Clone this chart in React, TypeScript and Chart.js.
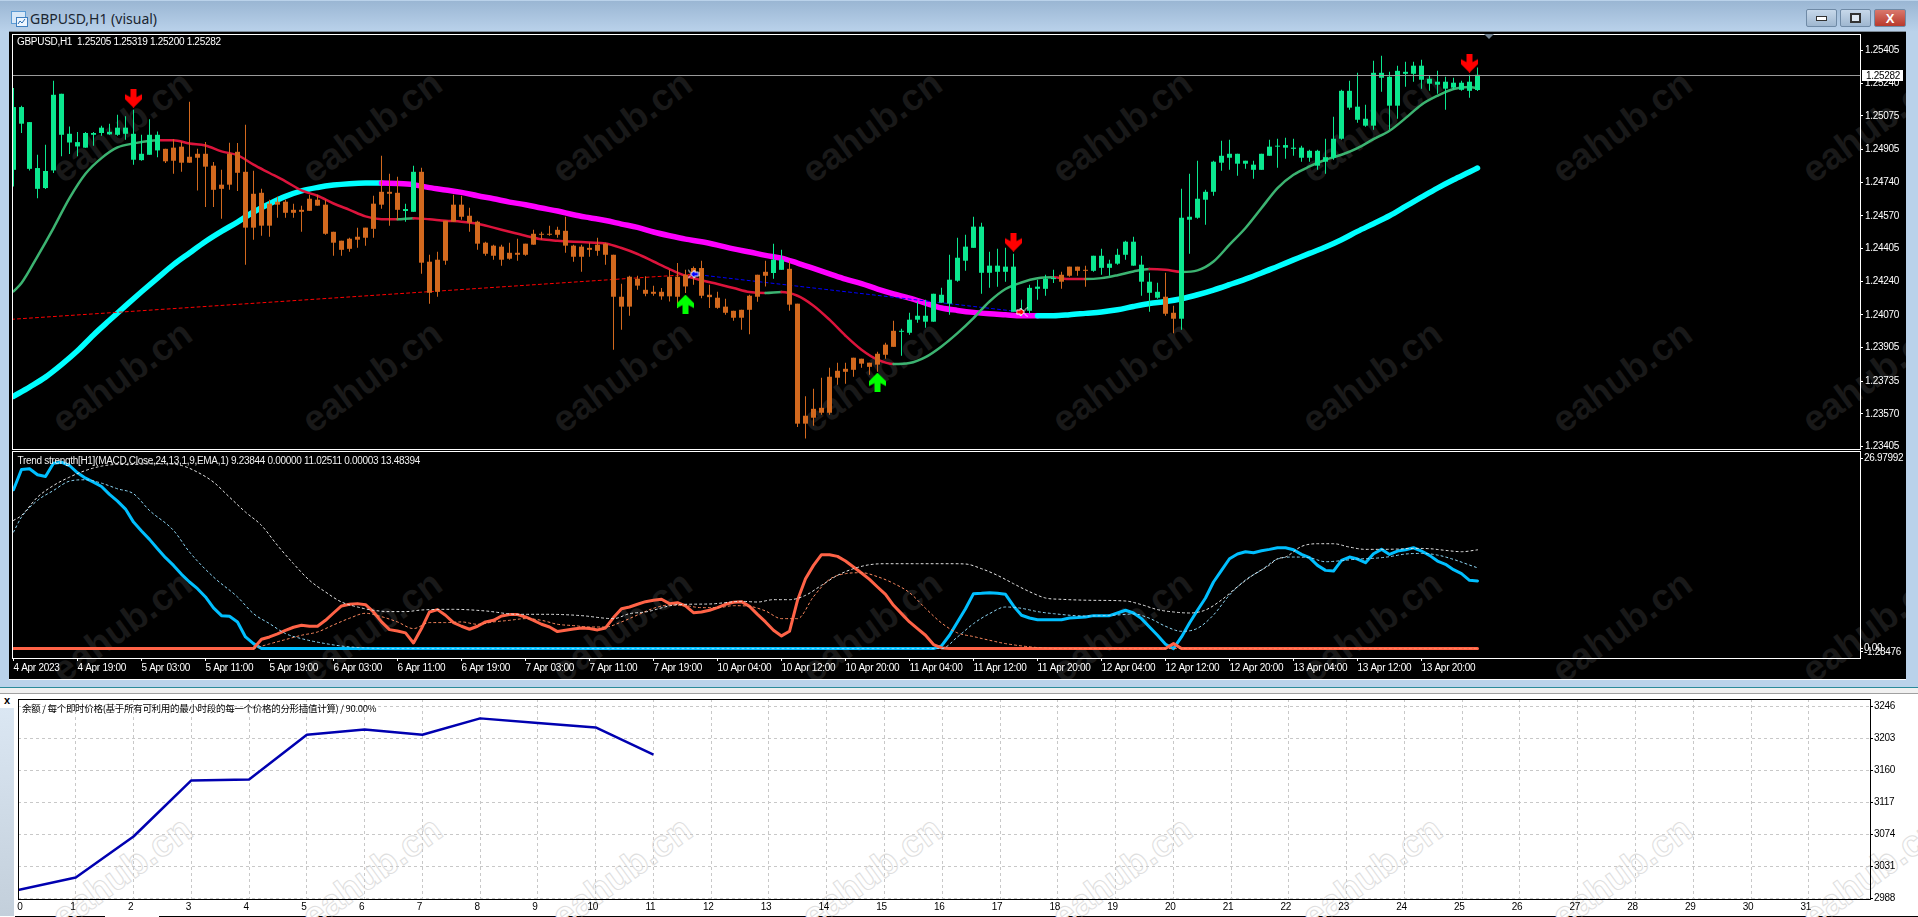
import React, { useEffect, useRef } from "react";
import { Chart, registerables } from "chart.js";

Chart.register(...registerables);

// ---------- price data (in 1/100000 price points), one entry per H1 bar ----------
const highs = [
  125215,125126,125043,124878,124929,125252,125186,125021,124993,124993,
  124993,125025,125035,125080,125072,125105,124979,125058,124996,124908,
  124957,124944,125146,124908,124942,124841,124802,124939,124937,125030,
  124797,124706,124651,124666,124651,124631,124621,124676,124676,124651,
  124489,124444,124459,124510,124510,124671,124873,124782,124767,124631,
  124823,124813,124373,124388,124545,124676,124671,124610,124545,124439,
  124424,124424,124434,124454,124429,124499,124489,124520,124515,124565,
  124424,124424,124434,124459,124434,124373,124227,124267,124267,124264,
  124217,124205,124297,124331,124297,124314,124343,124222,124186,124151,
  124090,124095,124171,124272,124343,124429,124398,124343,124126,123658,
  123696,123752,123802,123828,123828,123853,123848,123828,123883,123929,
  124040,123999,124080,124136,124146,124176,124206,124373,124459,124474,
  124565,124535,124388,124403,124408,124378,124146,124222,124247,124272,
  124297,124287,124313,124313,124318,124368,124403,124348,124403,124444,
  124464,124368,124282,124232,124282,124116,124706,124782,124848,124701,
  124848,124949,124954,124883,124848,124848,124883,124954,124959,124964,
  124959,124924,124903,124903,124959,125070,125206,125252,125292,125131,
  125353,125378,125297,125328,125348,125348,125358,125277,125302,125272,
  125267,125252,125282,125319,
];
const lows = [
  124718,124988,124799,124658,124705,124786,124870,124882,124870,124914,
  124924,124974,124979,124974,124954,124828,124848,124878,124865,124836,
  124782,124792,124838,124698,124614,124614,124555,124701,124695,124323,
  124449,124469,124464,124560,124560,124560,124489,124595,124621,124474,
  124368,124368,124388,124408,124419,124459,124605,124520,124550,124540,
  124590,124277,124126,124161,124323,124540,124550,124489,124398,124368,
  124348,124318,124348,124343,124368,124424,124449,124469,124459,124383,
  124338,124287,124363,124368,124323,123893,123994,124065,124196,124163,
  124166,124146,124137,124104,124180,124222,124154,124104,124100,124070,
  124040,123994,123972,124136,124213,124252,124297,124090,123503,123445,
  123510,123565,123565,123717,123722,123757,123802,123767,123782,123848,
  123908,123863,123969,124030,124004,124035,124131,124070,124237,124292,
  124408,124176,124206,124212,124237,124085,124062,124075,124146,124166,
  124230,124201,124262,124267,124212,124287,124272,124267,124323,124348,
  124318,124166,124085,124151,124065,123977,123994,124378,124555,124525,
  124671,124797,124802,124772,124807,124757,124802,124873,124813,124858,
  124873,124843,124843,124802,124782,124853,124954,125105,125040,125020,
  125004,125196,125004,125060,125222,125247,125212,125201,125186,125105,
  125206,125201,125166,125200,
];
const bodyTops = [
  125119,125119,125043,124811,124796,125181,125186,124984,124942,124988,
  124988,125015,124994,125015,125015,124984,124883,124979,124979,124908,
  124914,124919,124868,124883,124883,124823,124727,124883,124893,124792,
  124681,124686,124631,124641,124641,124600,124600,124656,124651,124626,
  124489,124444,124454,124464,124510,124631,124691,124691,124686,124604,
  124792,124792,124338,124348,124545,124626,124626,124570,124540,124434,
  124419,124414,124383,124383,124429,124479,124479,124479,124499,124494,
  124419,124414,124408,124424,124429,124373,124161,124262,124252,124196,
  124186,124186,124262,124262,124272,124306,124306,124171,124156,124111,
  124090,124095,124166,124272,124287,124348,124348,124302,124126,123560,
  123595,123600,123757,123787,123797,123853,123848,123828,123873,123919,
  123989,123989,124045,124065,124065,124176,124171,124247,124358,124414,
  124515,124515,124318,124318,124313,124313,124095,124206,124212,124252,
  124257,124272,124313,124313,124297,124368,124368,124328,124373,124439,
  124439,124323,124237,124186,124161,124080,124560,124565,124656,124691,
  124843,124873,124883,124883,124848,124828,124883,124919,124924,124927,
  124914,124914,124898,124898,124866,124959,125201,125201,125121,125060,
  125292,125292,125272,125302,125297,125328,125328,125262,125247,125247,
  125242,125242,125247,125282,
];
const bodyBottoms = [
  124802,125035,124807,124706,124710,124799,124979,124940,124920,124914,
  124979,124988,124981,124979,124984,124853,124851,124878,124900,124845,
  124848,124838,124838,124863,124818,124701,124706,124727,124787,124510,
  124510,124520,124520,124626,124585,124585,124590,124595,124621,124479,
  124434,124398,124403,124449,124459,124504,124626,124681,124600,124594,
  124590,124333,124181,124186,124343,124540,124565,124535,124429,124378,
  124368,124348,124353,124373,124373,124424,124474,124474,124474,124419,
  124363,124363,124398,124393,124373,124161,124111,124111,124217,124176,
  124176,124163,124163,124161,124213,124281,124166,124159,124105,124080,
  124055,124055,124095,124161,124267,124281,124297,124121,123520,123520,
  123550,123575,123575,123752,123782,123792,123823,123807,123818,123868,
  123908,123984,123979,124045,124035,124035,124131,124126,124242,124343,
  124408,124282,124282,124287,124287,124085,124085,124090,124201,124201,
  124250,124237,124267,124292,124292,124292,124307,124307,124328,124373,
  124318,124237,124181,124156,124075,124050,124050,124550,124560,124651,
  124691,124838,124863,124833,124833,124802,124802,124873,124919,124914,
  124908,124863,124863,124823,124843,124863,124959,125116,125055,125025,
  125025,125267,125126,125126,125287,125287,125257,125237,125232,125212,
  125217,125206,125201,125205,
];
// bars painted in the up-trend colour, inclusive bar ranges
const greenCandleRuns = [[0,18],[49,50],[95,96],[111,130],[135,143],[146,183]];

// ---------- moving averages: [bar, price points] ----------
const fastMA = [[0,124188],[1,124230],[3,124365],[5,124508],[7,124659],[9,124782],[11,124861],[13,124915],[15,124935],[18,124952],[20,124952],[22,124935],[24,124925],[26,124895],[28,124876],[30,124828],[32,124786],[34,124744],[36,124698],[38,124671],[40,124632],[42,124600],[44,124567],[46,124553],[48,124552],[50,124558],[52,124552],[54,124545],[56,124540],[58,124530],[60,124510],[62,124489],[64,124469],[66,124451],[68,124444],[70,124439],[72,124435],[74,124430],[76,124407],[78,124377],[80,124339],[82,124301],[84,124267],[86,124244],[88,124225],[90,124205],[92,124185],[94,124180],[96,124185],[98,124166],[100,124116],[102,124045],[104,123964],[106,123893],[108,123843],[110,123821],[112,123826],[114,123856],[116,123910],[118,123977],[120,124053],[122,124137],[124,124200],[126,124233],[128,124254],[130,124259],[132,124250],[134,124250],[136,124255],[138,124270],[140,124289],[142,124301],[144,124297],[146,124286],[148,124294],[150,124339],[152,124424],[154,124508],[156,124609],[158,124710],[160,124777],[162,124819],[164,124853],[166,124878],[168,124912],[170,124957],[172,124999],[174,125063],[176,125131],[178,125176],[180,125210],[182,125220],[183,125215]];
const fastRedRuns = [[18,48],[50,94],[96,110],[130,134],[142,146]];
const slowMA = [[0,123658],[2,123705],[4,123755],[6,123818],[8,123888],[10,123968],[12,124042],[14,124115],[16,124186],[18,124255],[20,124323],[22,124382],[24,124440],[26,124491],[28,124538],[30,124589],[32,124631],[34,124668],[36,124696],[38,124713],[40,124725],[42,124732],[44,124735],[46,124735],[48,124733],[50,124727],[52,124712],[54,124700],[56,124688],[58,124671],[60,124656],[62,124639],[64,124626],[66,124609],[68,124594],[70,124575],[72,124560],[74,124546],[76,124528],[78,124511],[80,124488],[82,124469],[84,124452],[86,124439],[88,124422],[90,124403],[92,124387],[94,124370],[96,124356],[98,124331],[100,124304],[102,124277],[104,124250],[106,124227],[108,124200],[110,124176],[112,124154],[114,124129],[116,124104],[118,124092],[120,124082],[122,124075],[124,124070],[126,124065],[128,124065],[130,124065],[132,124070],[134,124077],[136,124084],[138,124095],[140,124112],[142,124127],[144,124137],[146,124151],[148,124171],[150,124195],[152,124222],[154,124250],[156,124281],[158,124314],[160,124347],[162,124380],[164,124412],[166,124449],[168,124491],[170,124530],[172,124570],[174,124617],[176,124664],[178,124710],[180,124752],[182,124791],[183,124811]];
const slowMagentaRun = [46, 128];
const tradeRed = [[-1,124045],[85,124275]];
const tradeBlue = [[85,124275],[126,124084]];
const arrowsDown = [[15,125164],[125,124437],[182,125341]];
const arrowsUp = [[84,124124],[108,123730]];
const orderOpen = [[85,124275]];
const orderClose = [[126,124084]];
const lastClose = 1.25282;
const priceTicks = [1.25405,1.2524,1.25075,1.24905,1.2474,1.2457,1.24405,1.2424,1.2407,1.23905,1.23735,1.2357,1.23405];

// ---------- Trend strength window ----------
const blueFrom0 = [21.68,24.45,24.55,23.73,23.5,25.32,25.45,25,24,23.27,22.73,22.14,21.05,20.14,19.05,17.27,16.05,14.91,13.64,12.41,11.36,10.14,9.09,8.18,7.05,5.55,4.5,4.41,3.64,1.59,0.68,0];
const blueFrom115 = [0,0.36,1.82,3.64,5.45,7.5,7.55,7.64,7.55,7.41,5.82,4.55,4.18,3.95,3.95,3.95,3.95,4.18,4.23,4.32,4.5,4.5,4.5,4.86,5.23,4.86,4.09,2.95,1.82,0.59,0,1.59,3.5,5.23,6.91,9.09,10.68,12.27,12.91,13.23,13.09,13.36,13.55,13.77,13.77,13.5,12.86,12.41,11.36,10.68,10.59,12.05,12.5,12.23,11.73,12.95,13.55,12.86,13.32,13.5,13.77,13.32,12.73,11.95,11.5,10.77,10.23,9.32,9.24];
const orangeFrom30 = [0,1.27,1.59,2,2.5,2.91,3.18,3.05,3.05,3.86,4.86,5.82,6.05,6.14,6,5,3.64,2.59,2.41,2.14,0.77,2.73,5,5.32,4.55,3.55,3.05,2.64,3.05,3.64,3.86,4.45,4.64,4.64,4.32,3.86,3.32,2.95,2.32,2.5,2.68,2.82,2.73,2.55,2.82,4.23,5.45,5.68,6.05,6.41,6.59,6.73,6.14,6.27,5.82,4.91,5,5.23,5.59,6.05,6.32,6.41,5.77,4.68,3.64,2.5,1.73,2.36,6.59,9.55,11.36,12.82,12.82,12.59,11.95,11.14,10.32,9.45,8.41,7.41,5.91,4.77,3.64,2.73,1.82,0.55,0.09,0];
const orangeTail = [[144,0],[145,0.68],[146,0],[183,0]];
const whiteSignal = [[0,17.5],[1,18.18],[3,20.68],[5,22.27],[7,23.41],[9,24.32],[11,24.91],[13,25.14],[15,25.14],[17,25.23],[19,25.23],[21,25],[23,24.09],[25,22.73],[27,20.68],[29,18.64],[31,16.82],[33,14.09],[35,11.59],[37,9.32],[39,7.73],[41,6.36],[43,5.68],[45,5.23],[47,5.05],[49,5.05],[51,5.27],[55,5.36],[59,5.14],[63,4.68],[67,4.68],[71,4.5],[75,4.09],[77,4.77],[79,5],[83,6],[87,6.09],[91,6.45],[93,6.36],[95,6.68],[97,6.68],[99,7.27],[101,8.64],[103,10],[105,10.91],[107,11.45],[109,11.59],[113,11.59],[117,11.59],[119,11.55],[121,10.91],[123,10],[125,8.86],[127,7.77],[129,6.91],[131,6.73],[135,6.59],[139,6.5],[141,6],[143,5.32],[145,5],[147,4.86],[149,5.27],[151,6.64],[153,8.45],[155,10.09],[157,11.41],[158,12.27],[159,12.5],[161,13.95],[163,14.32],[165,14.32],[167,13.86],[169,13.55],[171,13.55],[173,13.59],[175,13.68],[177,13.64],[179,13.41],[181,13.23],[183,13.48]];
const blueSignal = [[0,15.91],[1,17.95],[3,20.23],[5,21.59],[7,22.86],[9,23.05],[11,22.59],[13,21.82],[15,21.14],[17,18.86],[20,16.14],[22,13.18],[25,9.77],[28,7.05],[30,4.77],[32,3.41],[34,2.05],[36,1.36],[39,0.68],[42,0.23],[47,0],[116,0],[118,1.59],[120,3.41],[122,4.77],[124,5.68],[126,5.5],[128,5.05],[130,4.77],[134,4.45],[138,4.59],[140,4.73],[142,4.14],[144,3.05],[146,2.36],[148,2.77],[150,4.59],[152,7.32],[154,9.36],[156,10.73],[158,12.23],[160,12.5],[162,12.41],[164,11.86],[166,12],[168,12.23],[170,12.32],[172,12.55],[174,12.91],[176,13],[178,12.77],[180,12.18],[182,11.41],[183,11.03]];
const orangeSignal = [[30,0],[32,0.64],[34,1.23],[36,1.82],[38,2.27],[40,3.23],[42,4.14],[44,4.82],[46,4.36],[48,3.64],[50,2.73],[52,3.55],[54,3.55],[56,3.64],[58,3.32],[60,3.64],[62,3.86],[64,4.09],[66,3.86],[68,3.32],[70,3.14],[72,2.95],[74,2.95],[76,3.64],[78,4.59],[80,5.5],[82,5.95],[84,5.86],[86,5.59],[88,5.59],[90,5.86],[92,5.77],[94,5.14],[96,4.09],[98,4.09],[100,7.09],[102,9.45],[104,10.23],[106,10.36],[108,9.82],[110,8.91],[112,7.64],[114,5.5],[116,3.5],[118,2.14],[120,1.64],[122,1.14],[124,0.68],[128,0.14],[131,0],[183,0]];
const subTickPos = [26, 0, -0.45];
const subTickLabels = ["26.97992", "0.00", "-1.28476"];
const timeTickBars = [0,8,16,24,32,40,48,56,64,72,80,88,96,104,112,120,128,136,144,152,160,168,176];
const timeTickLabels = ["4 Apr 2023","4 Apr 19:00","5 Apr 03:00","5 Apr 11:00","5 Apr 19:00","6 Apr 03:00","6 Apr 11:00","6 Apr 19:00","7 Apr 03:00","7 Apr 11:00","7 Apr 19:00","10 Apr 04:00","10 Apr 12:00","10 Apr 20:00","11 Apr 04:00","11 Apr 12:00","11 Apr 20:00","12 Apr 04:00","12 Apr 12:00","12 Apr 20:00","13 Apr 04:00","13 Apr 12:00","13 Apr 20:00"];

// ---------- tester balance window ----------
const balance = [2999.2,3015.8,3070.9,3146.1,3147.5,3207.5,3214.6,3207.5,3229.4,3223.2,3217.3,3180.6];
const balanceTicks = [2988,3031,3074,3117,3160,3203,3246];

const FONT = '"Liberation Sans",sans-serif';
const FSIZE = 10;
const CANDLE_GREEN = "#0be88f";
const CANDLE_ORANGE = "#d2691e";
const pts = (rows: number[][]) => rows.map(([x, y]) => ({ x, y: y / 1e5 }));
const inRuns = (runs: number[][], x: number, inclusive = false) =>
  runs.some(([a, b]) => (inclusive ? x >= a && x <= b : x >= a && x < b));

function arrowCanvas(color: string, up: boolean) {
  const c = document.createElement("canvas");
  c.width = 17;
  c.height = 19;
  const g = c.getContext("2d")!;
  g.fillStyle = color;
  g.translate(8.5, 9.5);
  if (up) g.rotate(Math.PI);
  g.beginPath();
  g.moveTo(-3, -9.5);
  g.lineTo(3, -9.5);
  g.lineTo(3, -1);
  g.lineTo(8.5, -4);
  g.lineTo(8.5, 1);
  g.lineTo(0, 9.5);
  g.lineTo(-8.5, 1);
  g.lineTo(-8.5, -4);
  g.lineTo(-3, -1);
  g.closePath();
  g.fill();
  return c;
}

function orderCanvas(color: string, right: boolean) {
  const c = document.createElement("canvas");
  c.width = 12;
  c.height = 10;
  const g = c.getContext("2d")!;
  g.translate(6, 5);
  if (!right) g.scale(-1, 1);
  g.strokeStyle = "#fff";
  g.lineWidth = 1;
  g.fillStyle = color;
  g.beginPath();
  g.moveTo(-5, -2);
  g.lineTo(-1, -2);
  g.lineTo(-1, -4);
  g.lineTo(3, 0);
  g.lineTo(-1, 4);
  g.lineTo(-1, 2);
  g.lineTo(-5, 2);
  g.closePath();
  g.fill();
  g.stroke();
  g.beginPath();
  g.moveTo(5.5, -4.5);
  g.lineTo(2, 0);
  g.lineTo(5.5, 4.5);
  g.stroke();
  return c;
}

const spacingPlugin = {
  id: "letterSpacing",
  beforeDraw(c: any) {
    c.ctx.letterSpacing = "-0.3px";
  },
};

const framePlugin = (color: string) => ({
  id: "frame" + color,
  afterDraw(c: any) {
    const { left, top, right, bottom } = c.chartArea;
    const g = c.ctx;
    g.save();
    g.strokeStyle = color;
    g.lineWidth = 1;
    g.strokeRect(left + 0.5, top + 0.5, right - left, bottom - top);
    g.restore();
  },
});

const textPlugin = (text: string, x: number, y: number, color: string, font: string) => ({
  id: "text" + x + y,
  afterDraw(c: any) {
    const g = c.ctx;
    g.save();
    g.font = font;
    g.fillStyle = color;
    g.textBaseline = "middle";
    g.fillText(text, x, y);
    g.restore();
  },
});

const lastPricePlugin = {
  id: "lastPrice",
  afterDraw(c: any) {
    const g = c.ctx;
    const { left, right } = c.chartArea;
    const y = Math.round(c.scales.y.getPixelForValue(lastClose));
    g.save();
    g.strokeStyle = "#9a9a9a";
    g.lineWidth = 1;
    g.beginPath();
    g.moveTo(left, y + 0.5);
    g.lineTo(right, y + 0.5);
    g.stroke();
    g.fillStyle = "#fff";
    g.fillRect(right + 2, y - 5, 41, 11);
    g.fillStyle = "#000";
    g.font = `${FSIZE}px ${FONT}`;
    g.textBaseline = "middle";
    g.fillText(lastClose.toFixed(5), right + 6, y + 1);
    g.restore();
  },
};

const lineBase = { type: "line", pointRadius: 0, borderJoinStyle: "round", borderCapStyle: "round", fill: false };

function makeMain(canvas: HTMLCanvasElement) {
  const xy = (i: number, v: number[]) => ({ x: i, y: v.map((p) => p / 1e5) });
  const colors = highs.map((_, i) => (inRuns(greenCandleRuns, i, true) ? CANDLE_GREEN : CANDLE_ORANGE));
  const barBase = { type: "bar", grouped: false, barPercentage: 1, categoryPercentage: 1, inflateAmount: 0, borderWidth: 0 };
  return new Chart(canvas, {
    type: "bar",
    data: {
      datasets: [
        { ...lineBase, type: "scatter", showLine: false, order: 0, pointRadius: 5, pointStyle: arrowCanvas("#ff0000", false), data: pts(arrowsDown) },
        { ...lineBase, type: "scatter", showLine: false, order: 0, pointRadius: 5, pointStyle: arrowCanvas("#00ff00", true), data: pts(arrowsUp) },
        { ...lineBase, type: "scatter", showLine: false, order: 0, pointRadius: 5, pointStyle: orderCanvas("#0000ff", false), data: pts(orderOpen) },
        { ...lineBase, type: "scatter", showLine: false, order: 0, pointRadius: 5, pointStyle: orderCanvas("#ff0000", true), data: pts(orderClose) },
        { ...barBase, order: 1, maxBarThickness: 5, minBarLength: 1, backgroundColor: colors, data: bodyTops.map((t, i) => xy(i, [bodyBottoms[i], t])) },
        { ...barBase, order: 2, maxBarThickness: 1, backgroundColor: colors, data: highs.map((h, i) => xy(i, [lows[i], h])) },
        { ...lineBase, order: 3, borderWidth: 2.5, cubicInterpolationMode: "monotone", data: pts(fastMA), borderColor: "#3cb371",
          segment: { borderColor: (ctx: any) => (inRuns(fastRedRuns, ctx.p0.parsed.x) ? "#dc143c" : "#3cb371") } },
        { ...lineBase, order: 4, borderWidth: 1, borderDash: [3, 3], borderColor: "#ff0000", data: pts(tradeRed) },
        { ...lineBase, order: 4, borderWidth: 1, borderDash: [3, 3], borderColor: "#0000ff", data: pts(tradeBlue) },
        { ...lineBase, order: 5, borderWidth: 5.5, cubicInterpolationMode: "monotone", data: pts(slowMA), borderColor: "#00ffff",
          segment: { borderColor: (ctx: any) => (inRuns([slowMagentaRun], ctx.p0.parsed.x) ? "#ff00ff" : "#00ffff") } },
      ] as any,
    },
    options: {
      animation: false,
      responsive: false,
      devicePixelRatio: 1,
      events: [],
      layout: { padding: { left: 12, top: 14, bottom: 11, right: 0 } },
      plugins: { legend: { display: false }, tooltip: { enabled: false } },
      scales: {
        x: { type: "linear", display: false, offset: false, min: -0.1875, max: 230.8125, grid: { offset: false } },
        y: {
          position: "right",
          min: 1.23392,
          max: 1.25488,
          afterFit: (s: any) => { s.width = 58; },
          afterBuildTicks: (s: any) => { s.ticks = priceTicks.map((value) => ({ value })); },
          border: { display: false },
          grid: { drawOnChartArea: false, tickColor: "#fff", tickLength: 3 },
          ticks: { color: "#fff", padding: 2, autoSkip: false, font: { family: FONT, size: FSIZE }, callback: (v: any) => Number(v).toFixed(5) },
        },
      },
    } as any,
    plugins: [
      spacingPlugin,
      lastPricePlugin,
      framePlugin("#ffffff"),
      textPlugin("GBPUSD,H1  1.25205 1.25319 1.25200 1.25282", 17, 22, "#fff", `${FSIZE}px ${FONT}`),
    ] as any,
  });
}

function makeSub(canvas: HTMLCanvasElement) {
  const series = (v: number[], from: number) => v.map((y, i) => ({ x: i + from, y }));
  const pairs = (rows: number[][]) => rows.map(([x, y]) => ({ x, y }));
  return new Chart(canvas, {
    type: "line",
    data: {
      datasets: [
        { ...lineBase, order: 0, borderWidth: 1, borderDash: [2, 3], borderColor: "#e6e6e6", cubicInterpolationMode: "monotone", data: pairs(whiteSignal) },
        { ...lineBase, order: 1, borderWidth: 1, borderDash: [2, 3], borderColor: "#8ed8f8", cubicInterpolationMode: "monotone", data: pairs(blueSignal) },
        { ...lineBase, order: 2, borderWidth: 1, borderDash: [2, 3], borderColor: "#ff8a60", cubicInterpolationMode: "monotone", data: pairs(orangeSignal) },
        { ...lineBase, order: 3, borderWidth: 3, borderColor: "#ff6347", data: [{ x: 0, y: 0 }, ...series(orangeFrom30, 30), ...pairs(orangeTail)] },
        { ...lineBase, order: 4, borderWidth: 3, borderColor: "#00bfff", data: [...series(blueFrom0, 0), ...series(blueFrom115, 115)] },
      ] as any,
    },
    options: {
      animation: false,
      responsive: false,
      devicePixelRatio: 1,
      events: [],
      layout: { padding: { left: 12, top: 11, bottom: 0, right: 0 } },
      plugins: { legend: { display: false }, tooltip: { enabled: false } },
      scales: {
        x: {
          type: "linear",
          min: -0.1875,
          max: 230.8125,
          afterFit: (s: any) => { s.height = 21; },
          afterBuildTicks: (s: any) => { s.ticks = timeTickBars.map((value) => ({ value })); },
          border: { display: false },
          grid: { drawOnChartArea: false, tickColor: "#fff", tickLength: 3 },
          ticks: { color: "#fff", padding: 1, align: "start", autoSkip: false, maxRotation: 0, font: { family: FONT, size: FSIZE },
            callback: (v: any) => timeTickLabels[timeTickBars.indexOf(Number(v))] },
        },
        y: {
          position: "right",
          min: -1.28476,
          max: 26.97992,
          afterFit: (s: any) => { s.width = 58; },
          afterBuildTicks: (s: any) => { s.ticks = subTickPos.map((value) => ({ value })); },
          border: { display: false },
          grid: { drawOnChartArea: false, tickColor: "#fff", tickLength: 3 },
          ticks: { color: "#fff", padding: 1, autoSkip: false, font: { family: FONT, size: FSIZE },
            callback: (_: any, i: number) => subTickLabels[i] },
        },
      },
    } as any,
    plugins: [
      spacingPlugin,
      framePlugin("#ffffff"),
      textPlugin("Trend strength[H1](MACD,Close,24,13,1,9,EMA,1) 9.23844 0.00000 11.02511 0.00003 13.48394", 17.5, 21, "#f0f0f0", `${FSIZE}px ${FONT}`),
    ] as any,
  });
}

function makeBalance(canvas: HTMLCanvasElement) {
  return new Chart(canvas, {
    type: "line",
    data: {
      datasets: [
        { ...lineBase, borderWidth: 2.5, borderColor: "#0000b0", borderCapStyle: "butt", data: balance.map((y, x) => ({ x, y })) },
      ] as any,
    },
    options: {
      animation: false,
      responsive: false,
      devicePixelRatio: 1,
      events: [],
      layout: { padding: { left: 18, top: 9, bottom: 0, right: 0 } },
      plugins: { legend: { display: false }, tooltip: { enabled: false } },
      scales: {
        x: {
          type: "linear",
          min: 0,
          max: 32.06,
          afterFit: (s: any) => { s.height = 18; },
          afterBuildTicks: (s: any) => { s.ticks = Array.from({ length: 32 }, (_, value) => ({ value })); },
          border: { display: false, dash: [3, 3] },
          grid: { color: "#c8c8c8", drawTicks: false, lineWidth: 1 },
          ticks: { color: "#000", padding: 2, labelOffset: -3, autoSkip: false, maxRotation: 0, font: { family: FONT, size: FSIZE },
            callback: (v: any) => (Number(v) === 0 ? "    0" : String(v)) },
        },
        y: {
          position: "right",
          min: 2987,
          max: 3255.4,
          afterFit: (s: any) => { s.width = 48; },
          afterBuildTicks: (s: any) => { s.ticks = balanceTicks.map((value) => ({ value })); },
          border: { display: false, dash: [3, 3] },
          grid: { color: "#c8c8c8", tickColor: "#000", tickLength: 3, tickBorderDash: [], lineWidth: 1 },
          ticks: { color: "#000", padding: 1, autoSkip: false, font: { family: FONT, size: FSIZE }, callback: (v: any) => String(v) },
        },
      },
    } as any,
    plugins: [
      spacingPlugin,
      framePlugin("#000000"),
      textPlugin("余额 / 每个即时价格(基于所有可利用的最小时段的每一个价格的分形插值计算) / 90.00%", 22, 18, "#000", `9.5px "Noto Sans CJK SC"`),
    ] as any,
  });
}

const abs = (left: number, top: number, width: number, height: number, extra: React.CSSProperties = {}): React.CSSProperties => ({
  position: "absolute", left, top, width, height, ...extra,
});

const markColumns = [122, 372, 622, 872, 1122, 1372, 1622, 1872];
const darkRows = [127, 377, 627];

const Mark = ({ x, y, light }: { x: number; y: number; light?: boolean }) => (
  <div
    style={{
      position: "absolute", left: x, top: y, transform: "translate(-50%,-50%) rotate(-36deg)",
      font: `700 37px "Liberation Sans",sans-serif`, whiteSpace: "nowrap", pointerEvents: "none",
      color: light ? "#fff" : "#191919",
      WebkitTextStroke: light ? "1px #dedede" : undefined,
    } as React.CSSProperties}
  >
    eahub.cn
  </div>
);

const WinButton = ({ x, w, bg, children }: { x: number; w: number; bg: string; children: React.ReactNode }) => (
  <div style={abs(x, 9, w, 18, { background: bg, border: "1px solid #6f8aa6", borderRadius: 2, boxSizing: "border-box", display: "flex", alignItems: "center", justifyContent: "center" })}>
    {children}
  </div>
);

export default function App() {
  const mainRef = useRef<HTMLCanvasElement>(null);
  const subRef = useRef<HTMLCanvasElement>(null);
  const balRef = useRef<HTMLCanvasElement>(null);

  useEffect(() => {
    const charts = [makeMain(mainRef.current!), makeSub(subRef.current!), makeBalance(balRef.current!)];
    return () => charts.forEach((c) => c.destroy());
  }, []);

  return (
    <div style={{ position: "fixed", left: 0, top: 0, width: 1918, height: 917, overflow: "hidden", background: "#f0f0f0" }}>
      {/* window frame */}
      <div style={abs(0, 0, 1918, 688, { background: "#bad2ea", borderBottom: "1px solid #2a8a9a", boxSizing: "border-box" })} />
      <div style={abs(0, 1, 1918, 30, { background: "linear-gradient(#9ab6d3,#b9d1ea)" })} />
      <svg style={abs(11, 11, 17, 16)} viewBox="0 0 17 16">
        <rect x="0.5" y="0.5" width="14" height="12" fill="#d8e8f8" stroke="#5b9bd5" />
        <rect x="5.5" y="6.5" width="11" height="9" fill="#eef6ff" stroke="#3f7fbf" />
        <path d="M7 13l2-3 2 2 3-4" stroke="#2a6db0" fill="none" />
      </svg>
      <div style={abs(30, 9, 200, 20, { font: '14px "Noto Sans",sans-serif', color: "#1a2530", lineHeight: "19px" })}>GBPUSD,H1 (visual)</div>
      <WinButton x={1806} w={31} bg="linear-gradient(#c7d8ea,#9fb7d0)"><div style={{ width: 9, height: 3, background: "#fff", border: "1px solid #333" }} /></WinButton>
      <WinButton x={1840} w={31} bg="linear-gradient(#c7d8ea,#9fb7d0)"><div style={{ width: 7, height: 6, background: "#dfe9f3", border: "2px solid #333" }} /></WinButton>
      <WinButton x={1874} w={32} bg="linear-gradient(#d9786c,#b8392c)"><div style={{ color: "#fff", font: '700 13px "Liberation Sans",sans-serif', lineHeight: "13px" }}>X</div></WinButton>
      <div style={abs(9, 31, 1897, 648, { background: "#000", borderTop: "1px solid #7c8a96", boxSizing: "border-box" })} />
      <div style={abs(9, 679, 1897, 1, { background: "#fff" })} />

      {/* lower window chrome */}
      <div style={abs(0, 693, 1918, 224, { background: "#fff", borderTop: "1px solid #a0a0a0", boxSizing: "border-box" })} />
      <div style={abs(0, 708, 14, 208, { background: "linear-gradient(#dbe7f3,#c3cfdb)" })} />
      <div style={abs(1, 694, 12, 12, { font: '700 11px "Liberation Sans",sans-serif', color: "#000", textAlign: "center", lineHeight: "12px" })}>x</div>
      <div style={abs(15, 916, 90, 1, { background: "#000" })} />
      <div style={abs(159, 916, 1759, 1, { background: "#000" })} />

      {/* watermark on the black panes */}
      <div style={abs(9, 32, 1897, 647, { overflow: "hidden" })}>
        {darkRows.flatMap((y) => markColumns.map((x) => <Mark key={`${x}-${y}`} x={x - 9} y={y - 32} />))}
      </div>
      {/* watermark on the white pane */}
      <div style={abs(0, 694, 1918, 223, { overflow: "hidden" })}>
        {markColumns.map((x) => <Mark key={x} x={x} y={873 - 694} light />)}
      </div>

      <canvas ref={mainRef} width={1918} height={440} style={abs(0, 20, 1918, 440, { display: "block" })} />
      <canvas ref={subRef} width={1918} height={239} style={abs(0, 440, 1918, 239, { display: "block" })} />
      <canvas ref={balRef} width={1918} height={227} style={abs(0, 690, 1918, 227, { display: "block" })} />

      {/* chart-shift marker */}
      <div style={{ position: "absolute", left: 1484, top: 34, width: 0, height: 0, borderLeft: "5px solid transparent", borderRight: "5px solid transparent", borderTop: "5px solid #708090" }} />
    </div>
  );
}
